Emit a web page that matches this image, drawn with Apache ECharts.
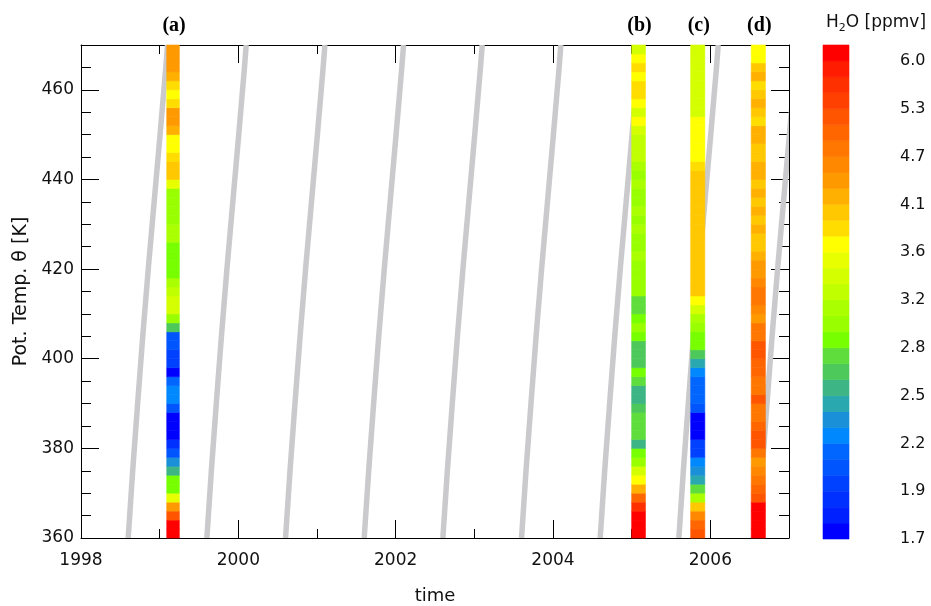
<!DOCTYPE html>
<html>
<head>
<meta charset="utf-8">
<script src="https://cdn.jsdelivr.net/npm/echarts@6/dist/echarts.min.js"></script>
<style>
  html, body { margin: 0; padding: 0; background: #ffffff; }
  #chart { width: 931px; height: 606px; }
</style>
</head>
<body>
<div id="chart"></div>
<script>
// ---- Profile layout: potential-temperature bins (K) -----------------------
const thetaMin = 360;
const thetaMax = 470;
const thetaStep = 2;

// ---- Water vapour profiles, ppmv, one value per 2 K bin, 360 K -> 470 K ----
const profileNames = ['(a)', '(b)', '(c)', '(d)'];
const profileStart = [1999.09, 2005.00, 2005.75, 2006.52];
const profileEnd   = [1999.25, 2005.175, 2005.93, 2006.70];

const h2oA = [6.10, 6.10, 5.18, 4.38, 3.55, 2.88, 2.88, 2.53, 2.33, 2.05,
              1.89, 1.74, 1.74, 1.74, 2.05, 2.23, 2.23, 2.14, 1.74, 1.97,
              1.97, 2.05, 2.05, 2.64, 3.00, 3.40, 3.40, 3.26, 3.13, 2.88,
              2.88, 2.88, 2.88, 3.13, 3.13, 3.00, 3.00, 3.00, 3.00, 3.55,
              4.03, 4.03, 3.86, 3.70, 3.70, 4.20, 4.38, 4.38, 3.86, 3.70,
              3.86, 4.20, 4.38, 4.38, 4.38];
const h2oB = [6.10, 6.10, 6.10, 5.63, 4.97, 4.20, 3.70, 3.40, 3.00, 2.88,
              2.53, 2.76, 2.76, 2.76, 2.64, 2.53, 2.53, 2.76, 2.88, 2.64,
              2.64, 2.64, 2.88, 3.00, 2.88, 2.76, 2.76, 3.00, 3.00, 3.00,
              3.00, 3.13, 3.00, 3.00, 3.13, 3.00, 3.13, 3.00, 3.00, 3.13,
              3.00, 3.13, 3.26, 3.26, 3.26, 3.40, 3.70, 3.40, 3.70, 3.86,
              3.86, 3.70, 3.86, 3.70, 3.40];
const h2oC = [5.18, 4.97, 4.57, 4.03, 3.13, 2.76, 2.43, 2.33, 2.23, 1.97,
              1.97, 1.74, 1.74, 1.74, 2.05, 2.14, 2.14, 2.14, 2.23, 2.43,
              2.64, 2.88, 2.88, 3.00, 3.13, 3.40, 3.70, 4.03, 4.03, 4.03,
              4.03, 4.03, 4.03, 4.03, 4.03, 4.03, 4.03, 4.03, 4.03, 4.03,
              4.03, 3.86, 3.70, 3.70, 3.70, 3.70, 3.70, 3.40, 3.40, 3.40,
              3.40, 3.40, 3.40, 3.40, 3.40];
const h2oD = [6.10, 6.10, 6.10, 6.10, 5.18, 4.97, 4.76, 4.57, 4.38, 4.76,
              5.18, 5.18, 4.97, 4.76, 4.76, 5.18, 4.76, 4.76, 4.97, 4.97,
              5.18, 5.18, 4.76, 4.76, 4.38, 4.57, 4.76, 4.76, 4.57, 4.38,
              4.38, 4.20, 4.03, 4.03, 4.20, 4.03, 4.20, 4.03, 4.20, 4.03,
              4.20, 4.20, 4.03, 4.03, 4.20, 4.20, 3.86, 4.03, 4.20, 4.03,
              3.86, 4.20, 4.03, 3.70, 3.70];
const profiles = [h2oA, h2oB, h2oC, h2oD];

// ---- Tape-recorder phase lines: start time at 360 K and ascent path --------
const phaseStart = [1998.6, 1999.6, 2000.6, 2001.6, 2002.6, 2003.6, 2004.6, 2005.6, 2006.6];
const pathTheta  = [360, 375, 390, 405, 420, 435, 450, 465, 470];
const pathDelay  = [0, 0.057, 0.12, 0.185, 0.255, 0.33, 0.405, 0.478, 0.50];

// ---- Axis ticks --------------------------------------------------------------
const yearMajor  = [1998, 2000, 2002, 2004, 2006];
const yearMinor  = [1999, 2001, 2003, 2005];
const thetaMajor = [360, 380, 400, 420, 440, 460];
const thetaMinor = [365, 370, 375, 385, 390, 395, 405, 410, 415, 425, 430, 435,
                    445, 450, 455, 465];

// ---- Colour scale: 30 log-spaced steps from 1.7 to 6.0 ppmv plus one above --
const colorLow = 1.7;
const colorHigh = 6.0;
const colorSteps = 30;
const colorTickLabels = ['1.7', '1.9', '2.2', '2.5', '2.8', '3.2', '3.6', '4.1', '4.7', '5.3', '6.0'];
const levelColors = [
  '#0000ff', '#0020ff', '#0030ff', '#0040ff', '#0055ff', '#0066ff', '#0088ff',
  '#1a90d8', '#2aa8b0', '#3db585', '#4dc85a', '#5fdd3c', '#77ff00', '#99ff00',
  '#aaff00', '#c0ff00', '#d4ff00', '#e8ff00', '#ffff00', '#ffdd00', '#ffc800',
  '#ffb000', '#ff9900', '#ff8800', '#ff7700', '#ff6600', '#ff5500', '#ff4000',
  '#ff3000', '#ff1c00', '#ff0000'
];

// ---------------------------------------------------------------------------
const FONT = 'DejaVu Sans';
const INK = '#111111';

const levelBounds = [];
for (let k = 0; k <= levelColors.length; k++) {
  levelBounds.push(colorLow * Math.pow(colorHigh / colorLow, k / colorSteps));
}
const pieces = levelColors.map((c, k) => {
  const p = { color: c };
  if (k > 0) p.gte = levelBounds[k];
  if (k < levelColors.length - 1) p.lt = levelBounds[k + 1];
  return p;
});

// cells: [t0, t1, theta0, theta1, h2o]
const stripCells = [];
profiles.forEach((vals, p) => {
  vals.forEach((v, i) => {
    const th0 = thetaMin + i * thetaStep;
    stripCells.push([profileStart[p], profileEnd[p], th0, th0 + thetaStep, v]);
  });
});

const barCells = levelColors.map((c, k) =>
  [0, 1, k, k + 1, Math.sqrt(levelBounds[k] * levelBounds[k + 1])]);

// Each phase line is a thick grey polyline clipped to the plot frame
function renderPhaseLine(params, api) {
  const t0 = api.value(0);
  const points = pathTheta.map((th, i) => api.coord([t0 + pathDelay[i], th]));
  const cs = params.coordSys;
  return {
    type: 'polyline',
    shape: { points: points },
    style: { stroke: '#cacacc', lineWidth: 5.5, fill: null, lineCap: 'butt', lineJoin: 'round' },
    clipPath: { type: 'rect', shape: { x: cs.x, y: cs.y, width: cs.width, height: cs.height } }
  };
}

function renderCell(params, api) {
  const a = api.coord([api.value(0), api.value(3)]);
  const b = api.coord([api.value(1), api.value(2)]);
  const color = api.visual('color');
  return {
    type: 'rect',
    shape: { x: a[0], y: a[1], width: b[0] - a[0], height: b[1] - a[1] },
    style: { fill: color, stroke: color, lineWidth: 0.6 }
  };
}

function renderPanelLabel(params, api) {
  const p = api.coord([api.value(0), api.value(1)]);
  return {
    type: 'text',
    x: p[0] + 1,
    y: p[1] - 19,
    style: {
      text: profileNames[params.dataIndex],
      fill: '#000',
      font: 'bold 20px "Liberation Serif"',
      align: 'center',
      verticalAlign: 'middle'
    }
  };
}

const labelStyle = { fontFamily: FONT, fontSize: 17, color: INK };

function frameAxis(dim, extra) {
  const base = {
    type: 'value',
    gridIndex: 0,
    min: dim === 'x' ? 1998 : thetaMin,
    max: dim === 'x' ? 2007 : thetaMax,
    splitLine: { show: false },
    axisLine: { show: true, onZero: false, lineStyle: { color: '#000', width: 1 } },
    axisLabel: { show: false },
    axisTick: { show: true, inside: true, lineStyle: { color: '#000', width: 1 } }
  };
  return Object.assign(base, extra);
}

const xAxes = [
  frameAxis('x', {
    position: 'bottom',
    axisTick: { show: true, inside: true, length: 18, customValues: yearMajor, lineStyle: { color: '#000', width: 1 } },
    axisLabel: Object.assign({ show: true, customValues: yearMajor, margin: 14, formatter: v => String(v) }, labelStyle),
    name: 'time', nameLocation: 'middle', nameGap: 49,
    nameTextStyle: { fontFamily: FONT, fontSize: 18, color: INK }
  }),
  frameAxis('x', {
    position: 'bottom',
    axisLine: { show: false },
    axisTick: { show: true, inside: true, length: 9, customValues: yearMinor, lineStyle: { color: '#000', width: 1 } }
  }),
  frameAxis('x', {
    position: 'top',
    axisTick: { show: true, inside: true, length: 18, customValues: yearMajor, lineStyle: { color: '#000', width: 1 } }
  }),
  frameAxis('x', {
    position: 'top',
    axisLine: { show: false },
    axisTick: { show: true, inside: true, length: 9, customValues: yearMinor, lineStyle: { color: '#000', width: 1 } }
  }),
  { type: 'value', gridIndex: 1, min: 0, max: 1, show: false }
];

const yAxes = [
  frameAxis('y', {
    position: 'left',
    axisTick: { show: true, inside: true, length: 18, customValues: thetaMajor, lineStyle: { color: '#000', width: 1 } },
    axisLabel: Object.assign({ show: true, customValues: thetaMajor, margin: 7, formatter: v => String(v) }, labelStyle),
    name: 'Pot. Temp. θ [K]', nameLocation: 'middle', nameGap: 47,
    nameTextStyle: { fontFamily: FONT, fontSize: 19, color: INK }
  }),
  frameAxis('y', {
    position: 'left',
    axisLine: { show: false },
    axisTick: { show: true, inside: true, length: 10, customValues: thetaMinor, lineStyle: { color: '#000', width: 1 } }
  }),
  frameAxis('y', {
    position: 'right',
    axisTick: { show: true, inside: true, length: 18, customValues: thetaMajor, lineStyle: { color: '#000', width: 1 } }
  }),
  frameAxis('y', {
    position: 'right',
    axisLine: { show: false },
    axisTick: { show: true, inside: true, length: 10, customValues: thetaMinor, lineStyle: { color: '#000', width: 1 } }
  }),
  {
    type: 'value', gridIndex: 1, position: 'right', min: 0, max: levelColors.length,
    splitLine: { show: false },
    axisLine: { show: false },
    axisTick: { show: false },
    axisLabel: {
      show: true,
      customValues: colorTickLabels.map((s, i) => i * 3),
      formatter: v => colorTickLabels[Math.round(v / 3)],
      margin: 51,
      fontFamily: FONT, fontSize: 16, color: INK
    }
  }
];

const chart = echarts.init(document.getElementById('chart'), null, { renderer: 'canvas' });

chart.setOption({
  animation: false,
  backgroundColor: '#ffffff',
  title: {
    text: '{n|H}{s|2}{n|O [ppmv]}',
    left: 826,
    top: 12,
    padding: 0,
    textStyle: {
      fontWeight: 'normal',
      rich: {
        n: { fontFamily: FONT, fontSize: 17, fontWeight: 'normal', color: INK, lineHeight: 22 },
        s: { fontFamily: FONT, fontSize: 11, fontWeight: 'normal', color: INK, lineHeight: 22, verticalAlign: 'bottom' }
      }
    }
  },
  grid: [
    { left: 81, top: 45, width: 708, height: 493, containLabel: false, outerBoundsMode: 'none' },
    { left: 823, top: 45, width: 26, height: 494, containLabel: false, outerBoundsMode: 'none' }
  ],
  xAxis: xAxes,
  yAxis: yAxes,
  visualMap: {
    type: 'piecewise',
    show: false,
    dimension: 4,
    seriesIndex: [1, 3],
    pieces: pieces
  },
  series: [
    {
      type: 'custom',
      xAxisIndex: 0, yAxisIndex: 0,
      renderItem: renderPhaseLine,
      data: phaseStart.map(t0 => [t0]),
      silent: true,
      z: 1
    },
    {
      type: 'custom',
      xAxisIndex: 0, yAxisIndex: 0,
      renderItem: renderCell,
      data: stripCells,
      silent: true,
      z: 3
    },
    {
      type: 'custom',
      xAxisIndex: 0, yAxisIndex: 0,
      renderItem: renderPanelLabel,
      data: profileNames.map((n, p) => [(profileStart[p] + profileEnd[p]) / 2, thetaMax]),
      silent: true,
      z: 4
    },
    {
      type: 'custom',
      xAxisIndex: 4, yAxisIndex: 4,
      renderItem: renderCell,
      data: barCells,
      silent: true,
      z: 3
    }
  ]
});
</script>
</body>
</html>
